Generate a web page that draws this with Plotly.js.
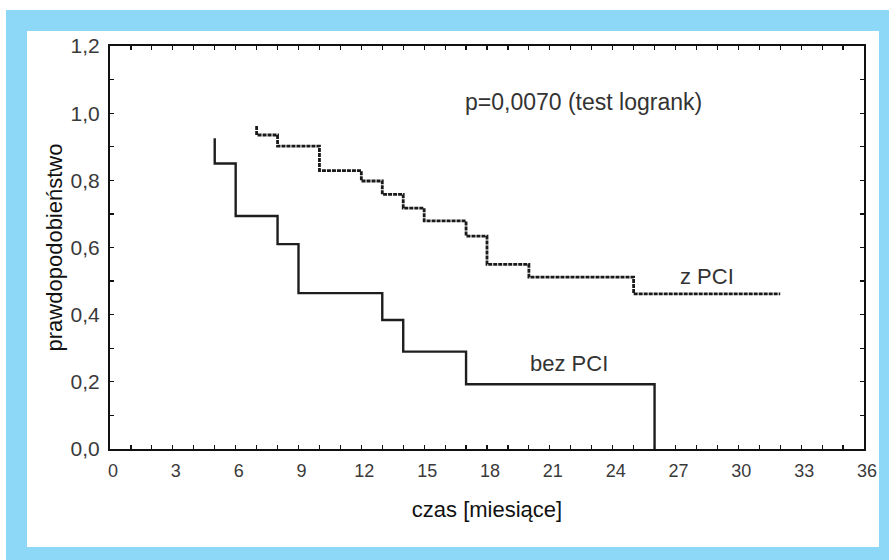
<!DOCTYPE html>
<html>
<head>
<meta charset="utf-8">
<script src="https://cdn.plot.ly/plotly-3.0.1.min.js"></script>
<style>
  html, body { margin: 0; padding: 0; background: #ffffff; width: 889px; height: 560px; overflow: hidden; }
  #frame { position: absolute; left: 6px; top: 10px; width: 883px; height: 550px; background: #8dd8f6; }
  #chart { position: absolute; left: 21px; top: 21px; width: 852px; height: 516px; background: #ffffff; }
</style>
</head>
<body>
<div id="frame"><div id="chart"></div></div>
<script>
// Kaplan–Meier curves (months, probability)
var bezPciMonths = [5, 5, 6, 8, 9, 13, 14, 17, 26];
var bezPciProb   = [0.925, 0.85, 0.694, 0.61, 0.464, 0.384, 0.29, 0.193, 0];

var zPciMonths = [7, 7, 8, 10, 12, 13, 14, 15, 17, 18, 20, 25, 32];
var zPciProb   = [0.962, 0.935, 0.902, 0.829, 0.798, 0.758, 0.717, 0.679, 0.634, 0.55, 0.512, 0.462, 0.462];

var seriesNames = ["bez PCI", "z PCI"];
var pValueText = "p=0,0070 (test logrank)";
var xTitle = "czas [miesiące]";
var yTitle = "prawdopodobieństwo";

var traces = [
  {
    x: bezPciMonths, y: bezPciProb, name: seriesNames[0],
    mode: "lines", line: { shape: "hv", color: "#1e1e1e", width: 2.4 },
    hoverinfo: "skip"
  },
  {
    x: zPciMonths, y: zPciProb, name: seriesNames[1],
    mode: "lines", line: { shape: "hv", color: "#1a1a1a", width: 2.8, dash: "4px,1px" },
    hoverinfo: "skip"
  }
];

var fam = "Liberation Sans, Arial, sans-serif";
var annFont = { family: fam, size: 22, color: "#333333" };

var layout = {
  width: 852, height: 516,
  margin: { l: 83, r: 15, t: 15, b: 98 },
  paper_bgcolor: "#ffffff",
  plot_bgcolor: "#ffffff",
  showlegend: false,
  separators: ", ",
  xaxis: {
    range: [0, 36], dtick: 3, tick0: 0,
    showgrid: false, zeroline: false,
    showline: true, linecolor: "#111111", linewidth: 2, mirror: "allticks",
    ticks: "inside", ticklen: 4, tickwidth: 1.2, tickcolor: "#111111",
    minor: { dtick: 1, ticks: "inside", ticklen: 4, tickwidth: 1.2, tickcolor: "#111111", showgrid: false },
    tickfont: { family: fam, size: 18, color: "#3a3a3a" }, ticklabelstandoff: 4, ticklabelshift: 3,
    title: { text: xTitle, font: { family: fam, size: 22, color: "#111111" }, standoff: 22 }
  },
  yaxis: {
    range: [0, 1.2], dtick: 0.2, tick0: 0, tickformat: ".1f",
    showgrid: false, zeroline: false,
    showline: true, linecolor: "#111111", linewidth: 2, mirror: "allticks",
    ticks: "inside", ticklen: 4, tickwidth: 1.2, tickcolor: "#111111",
    minor: { dtick: 0.1, ticks: "inside", ticklen: 4, tickwidth: 1.2, tickcolor: "#111111", showgrid: false },
    tickfont: { family: fam, size: 21, color: "#3a3a3a" },
    ticklabelstandoff: 4,
    title: { text: yTitle, font: { family: fam, size: 22, color: "#111111" }, standoff: 2 }
  },
  annotations: [
    { x: 22.6, y: 1.033, xref: "x", yref: "y", text: pValueText, showarrow: false, font: { family: fam, size: 23, color: "#333333" } },
    { x: 28.5, y: 0.515, xref: "x", yref: "y", text: seriesNames[1], showarrow: false, font: annFont },
    { x: 21.9, y: 0.256, xref: "x", yref: "y", text: seriesNames[0], showarrow: false, font: annFont }
  ]
};

Plotly.newPlot("chart", traces, layout, { staticPlot: true, displayModeBar: false });
</script>
</body>
</html>
